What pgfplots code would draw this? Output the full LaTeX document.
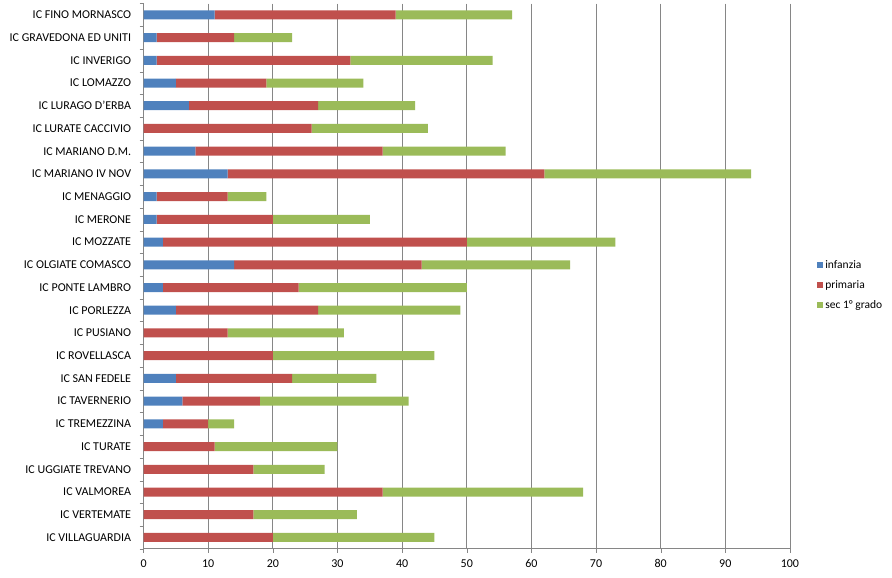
\documentclass[border=0pt]{standalone}
\usepackage{pgfplots}
\pgfplotsset{compat=1.18}
\usepackage{fontspec}
\setmainfont{Carlito}
\definecolor{cblue}{HTML}{4F81BD}
\definecolor{cred}{HTML}{C0504D}
\definecolor{cgreen}{HTML}{9BBB59}
\definecolor{cgrid}{HTML}{868686}
\begin{document}
\begin{tikzpicture}
\begin{axis}[
  scale only axis,
  width=646pt, height=545pt,
  xbar stacked,
  bar width=9pt,
  xmin=0, xmax=100,
  ymin=-0.5, ymax=23.5,
  y dir=reverse,
  xtick={0,10,...,100},
  ytick={0,...,23},
  yticklabels={IC FINO MORNASCO,IC GRAVEDONA ED UNITI,IC INVERIGO,IC LOMAZZO,IC LURAGO D'ERBA,IC LURATE CACCIVIO,IC MARIANO D.M.,IC MARIANO IV NOV,IC MENAGGIO,IC MERONE,IC MOZZATE,IC OLGIATE COMASCO,IC PONTE LAMBRO,IC PORLEZZA,IC PUSIANO,IC ROVELLASCA,IC SAN FEDELE,IC TAVERNERIO,IC TREMEZZINA,IC TURATE,IC UGGIATE TREVANO,IC VALMOREA,IC VERTEMATE,IC VILLAGUARDIA},
  minor ytick={-0.5,0.5,...,23.5},
  major y tick style={draw=none},
  minor y tick style={cgrid},
  minor tick length=4pt,
  major tick length=4pt,
  x tick style={cgrid},
  tick align=outside,
  xmajorgrids,
  major x grid style={cgrid, line width=0.8pt},
  axis x line*=bottom,
  axis y line*=left,
  axis line style={cgrid, line width=0.8pt, -},
  ticklabel style={font=\fontsize{12}{14}\selectfont},
  /pgf/number format/assume math mode=true,
  yticklabel style={xshift=-5pt},
  xticklabel style={yshift=-3pt},
  clip=false,
  legend style={at={(1.042,0.484)}, anchor=west, draw=none, fill=none, font=\fontsize{11.5}{13}\selectfont, row sep=6.5pt, inner sep=0pt},
  legend cell align=left,
  legend image code/.code={\fill[#1] (0pt,-3pt) rectangle (6pt,3pt);},
]
\addplot[fill=cblue, draw=none] coordinates {
(11,0) (2,1) (2,2) (5,3) (7,4) (0,5) (8,6) (13,7) (2,8) (2,9) (3,10) (14,11) (3,12) (5,13) (0,14) (0,15) (5,16) (6,17) (3,18) (0,19) (0,20) (0,21) (0,22) (0,23)};
\addplot[fill=cred, draw=none] coordinates {
(28,0) (12,1) (30,2) (14,3) (20,4) (26,5) (29,6) (49,7) (11,8) (18,9) (47,10) (29,11) (21,12) (22,13) (13,14) (20,15) (18,16) (12,17) (7,18) (11,19) (17,20) (37,21) (17,22) (20,23)};
\addplot[fill=cgreen, draw=none] coordinates {
(18,0) (9,1) (22,2) (15,3) (15,4) (18,5) (19,6) (32,7) (6,8) (15,9) (23,10) (23,11) (26,12) (22,13) (18,14) (25,15) (13,16) (23,17) (4,18) (19,19) (11,20) (31,21) (16,22) (25,23)};
\legend{infanzia,primaria,sec 1° grado}
\end{axis}
\pgfresetboundingbox
\useasboundingbox ([shift={(-143.5pt,-29pt)}]current axis.south west) rectangle ([shift={(102pt,3.5pt)}]current axis.north east);
\end{tikzpicture}
\end{document}
